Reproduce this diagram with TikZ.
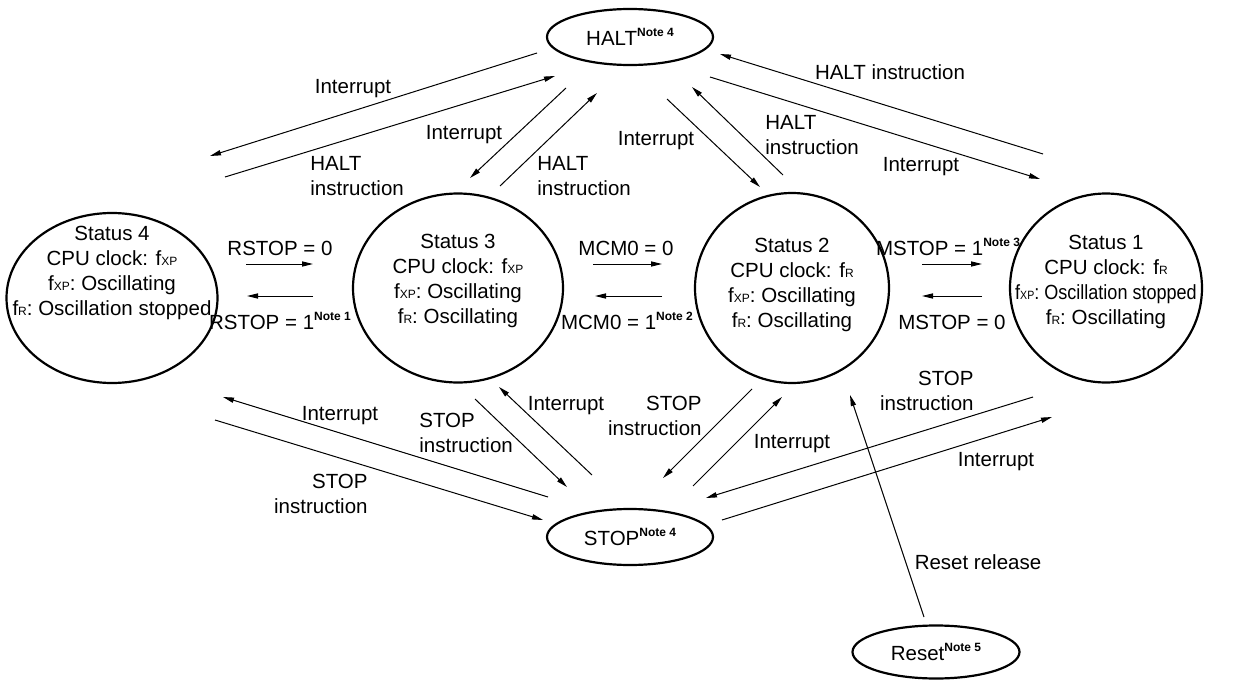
\documentclass[tikz,border=0pt]{standalone}
\usepackage{fontspec}
\setmainfont{Liberation Sans}
\usepackage{tikz}
\usetikzlibrary{arrows.meta,shapes.geometric}

\newcommand{\fxp}{f{\fontsize{6}{7}\selectfont XP}}
\newcommand{\fr}{f{\fontsize{6}{7}\selectfont R}}
\newcommand{\note}[1]{\raisebox{4.5pt}{\fontsize{6}{7}\selectfont\bfseries Note #1}}

\begin{document}
\begin{tikzpicture}[
      x=0.5pt, y=-0.5pt,
      every node/.style={font=\fontsize{10.25}{12.5}\selectfont},
      state/.style={draw, ellipse, line width=1.1pt, inner sep=0pt},
      modebox/.style={draw, ellipse, line width=1.1pt, inner sep=0pt,
        minimum width=83pt, minimum height=28pt},
      arr/.style={-{Triangle[length=5.5pt,width=2.6pt]}, line width=0.5pt},
      lbl/.style={inner sep=0pt, anchor=base},
      lbl2/.style={inner sep=0pt}
    ]
    \useasboundingbox (0,0) rectangle (1249,680);

    % Standby modes
    \node[modebox] (halt) at (630,37) {HALT\note{4}};
    \node[modebox] (stop) at (630,537) {STOP\note{4}};
    \node[modebox, minimum width=83.5pt, minimum height=26.5pt] (reset) at (936,652) {Reset\note{5}};

    % Status circles
    \node[
      state,
      minimum width=105.5pt,
      minimum height=85pt,
      label={[align=center, yshift=12.5pt]center:Status 4\\CPU clock: \fxp\\\fxp: Oscillating\\\fr: Oscillation stopped}
    ] (s4) at (112,298) {};

    \node[
      state,
      minimum width=105pt,
      minimum height=94.5pt,
      label={[align=center, yshift=3.5pt]center:Status 3\\CPU clock: \fxp\\\fxp: Oscillating\\\fr: Oscillating}
    ] (s3) at (458,288) {};

    \node[
      state,
      minimum width=97pt,
      minimum height=95pt,
      label={[align=center, yshift=1.5pt]center:Status 2\\CPU clock: \fr\\\fxp: Oscillating\\\fr: Oscillating}
    ] (s2) at (792,288) {};

    \node[
      state,
      minimum width=96pt,
      minimum height=94.5pt,
      label={[align=center, yshift=3pt]center:Status 1\\CPU clock: \fr\\\scalebox{0.88}[1]{\fxp: Oscillation stopped}\\\fr: Oscillating}
    ] (s1) at (1106,288) {};

    % HALT transitions
    \draw[arr] ([shift={(-93,16)}]halt.center) -- ([shift={(98,-142)}]s4.center);
    \draw[arr] ([shift={(113,-121)}]s4.center) -- ([shift={(-75,39)}]halt.center);
    \draw[arr] ([shift={(-64,51)}]halt.center) -- ([shift={(12,-110)}]s3.center);
    \draw[arr] ([shift={(42,-102)}]s3.center) -- ([shift={(-33,56)}]halt.center);
    \draw[arr] ([shift={(37,62)}]halt.center) -- ([shift={(-32,-101)}]s2.center);
    \draw[arr] ([shift={(-9,-113)}]s2.center) -- ([shift={(62,50)}]halt.center);
    \draw[arr] ([shift={(80,40)}]halt.center) -- ([shift={(-66,-109)}]s1.center);
    \draw[arr] ([shift={(-63,-134)}]s1.center) -- ([shift={(90,17)}]halt.center);

    \node[lbl] (t1) at (353,93) {Interrupt};
    \node[lbl2, anchor=west, align=left] (t2) at (310,176) {HALT\\instruction};
    \node[lbl] (t3) at (464,139) {Interrupt};
    \node[lbl2, anchor=west, align=left] (t4) at (537,176) {HALT\\instruction};
    \node[lbl] (t5) at (656,145) {Interrupt};
    \node[lbl2, anchor=west, align=left] (t6) at (765,135) {HALT\\instruction};
    \node[lbl] (t7) at (890,79) {HALT instruction};
    \node[lbl] (t8) at (921,171) {Interrupt};

    % Clock switching
    \draw[arr] ([shift={(134,-34)}]s4.center) -- ([shift={(-145,-24)}]s3.center);
    \draw[arr] ([shift={(-145,8)}]s3.center) -- ([shift={(135,-2)}]s4.center);
    \draw[arr] ([shift={(135,-24)}]s3.center) -- ([shift={(-130,-24)}]s2.center);
    \draw[arr] ([shift={(-130,8)}]s2.center) -- ([shift={(137,8)}]s3.center);
    \draw[arr] ([shift={(130,-24)}]s2.center) -- ([shift={(-124,-24)}]s1.center);
    \draw[arr] ([shift={(-124,8)}]s1.center) -- ([shift={(130,8)}]s2.center);

    \node[lbl] (r0) at (280,255) {RSTOP = 0};
    \node[lbl] (r1) at (280,329) {RSTOP = 1\note{1}};
    \node[lbl] (c0) at (626,255) {MCM0 = 0};
    \node[lbl] (c1) at (627,329) {MCM0 = 1\note{2}};
    \node[lbl] (m1) at (948,255) {MSTOP = 1\note{3}};
    \node[lbl] (m0) at (952,329) {MSTOP = 0};

    % STOP transitions
    \draw[arr] ([shift={(-82,-40)}]stop.center) -- ([shift={(111,99)}]s4.center);
    \draw[arr] ([shift={(103,122)}]s4.center) -- ([shift={(-87,-17)}]stop.center);
    \draw[arr] ([shift={(17,111)}]s3.center) -- ([shift={(-63,-50)}]stop.center);
    \draw[arr] ([shift={(-38,-62)}]stop.center) -- ([shift={(41,99)}]s3.center);
    \draw[arr] ([shift={(-40,101)}]s2.center) -- ([shift={(33,-59)}]stop.center);
    \draw[arr] ([shift={(63,-51)}]stop.center) -- ([shift={(-10,109)}]s2.center);
    \draw[arr] ([shift={(-73,109)}]s1.center) -- ([shift={(76,-39)}]stop.center);
    \draw[arr] ([shift={(92,-17)}]stop.center) -- ([shift={(-54,129)}]s1.center);

    \node[lbl] (u1) at (340,420) {Interrupt};
    \node[lbl2, anchor=east, align=right] (u2) at (368,494) {STOP\\instruction};
    \node[lbl2, anchor=west, align=left] (u3) at (419,433) {STOP\\instruction};
    \node[lbl] (u4) at (566,410) {Interrupt};
    \node[lbl2, anchor=east, align=right] (u5) at (702,416) {STOP\\instruction};
    \node[lbl] (u6) at (792,448) {Interrupt};
    \node[lbl2, anchor=east, align=right] (u7) at (974,391) {STOP\\instruction};
    \node[lbl] (u8) at (996,466) {Interrupt};

    % Reset
    \draw[arr] ([shift={(-12,-35)}]reset.center) -- ([shift={(58,107)}]s2.center);
    \node[lbl] (rr) at (978,569) {Reset release};

  \end{tikzpicture}
\end{document}
